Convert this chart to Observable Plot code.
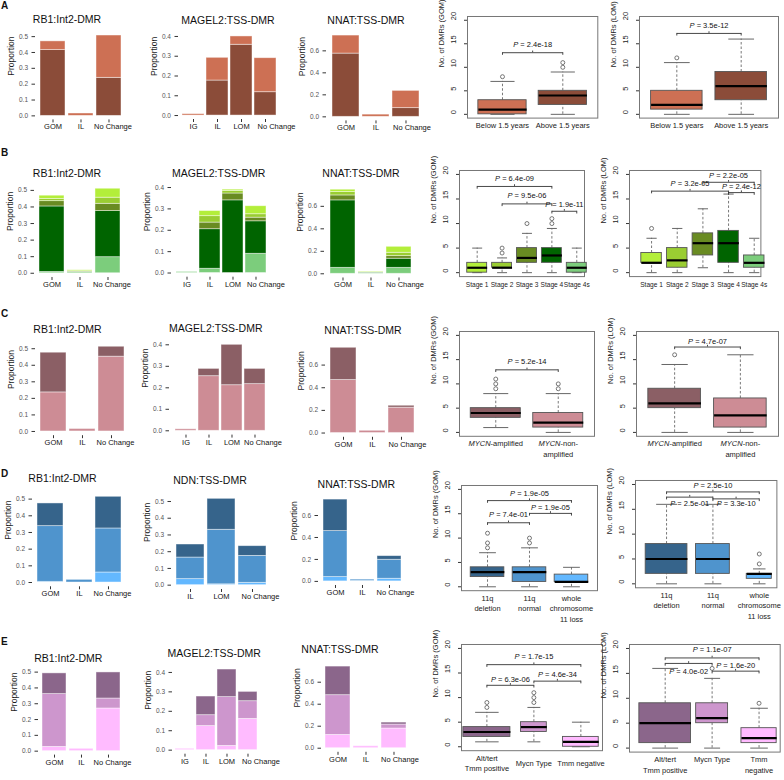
<!DOCTYPE html>
<html>
<head>
<meta charset="utf-8">
<script src="https://cdn.jsdelivr.net/npm/d3@7"></script>
<script src="https://cdn.jsdelivr.net/npm/@observablehq/plot@0.6"></script>
<style>
  body { margin: 0; background: #fff; }
  #fig { position: relative; width: 784px; height: 780px; overflow: hidden;
         font-family: "Liberation Sans", Arial, sans-serif; color: #111; }
  .ttl { position: absolute; transform: translate(-50%, -50%); font-size: 10.5px; line-height: 1; white-space: nowrap; }
  .tag { position: absolute; transform: translate(0, -50%); font-size: 10px; font-weight: bold; line-height: 1; }
</style>
</head>
<body>
<div id="fig"></div>
<script>
// ---------- categories ----------
const rb1Cats = ["GOM", "IL", "No Change"];
const magel2Cats = ["IG", "IL", "LOM", "No Change"];
const ndnCats = ["IL", "LOM", "No Change"];
const nnatCats = ["GOM", "IL", "No Change"];

const propTicks5 = [0, 0.1, 0.2, 0.3, 0.4, 0.5];
const propTicks4 = [0, 0.1, 0.2, 0.3, 0.4];
const propTicks6 = [0, 0.2, 0.4, 0.6];
const countTicks = [0, 5, 10, 15, 20];

// ---------- A: age at diagnosis ----------
const ageStack = ["Above 1.5 years", "Below 1.5 years"];          // bottom -> top
const ageStackColors = ["#8B4C39", "#CD7054"];
const ageRb1 = [[0.415, 0, 0.24], [0.055, 0.015, 0.267]];
const ageMagel2 = [[0, 0.177, 0.358, 0.118], [0.007, 0.115, 0.042, 0.172]];
const ageNnat = [[0.575, 0, 0.079], [0.164, 0.02, 0.157]];
const ageBoxGroups = ["Below 1.5 years", "Above 1.5 years"];
const ageBoxColors = ["#CD7054", "#8B4C39"];
// lower whisker, Q1, median, Q3, upper whisker
const ageGom = [[0, 0, 1, 3, 7], [0, 2, 4, 5, 9]];
const ageGomOut = [[8], [10, 11]];
const ageGomP = [{a: 1, b: 2, y: 13.1, ty: 14.8, p: "2.4e-18"}];
const ageLom = [[0, 1, 2, 5, 11], [0, 3, 6, 9, 16]];
const ageLomOut = [[12], []];
const ageLomP = [{a: 1, b: 2, y: 17.2, ty: 18.9, p: "3.5e-12"}];

// ---------- B: INSS stage ----------
const stageStack = ["Stage 4s", "Stage 4", "Stage 3", "Stage 2", "Stage 1"];
const stageStackColors = ["#7CCD7C", "#006400", "#698B22", "#9ACD32", "#B3EE3A"];
const stageRb1 = [[0.008, 0.008, 0.097], [0.395, 0, 0.278], [0.032, 0.004, 0.044], [0.013, 0, 0.037], [0.02, 0.006, 0.054]];
const stageMagel2 = [[0.005, 0.02, 0, 0.09], [0, 0.185, 0.34, 0.152], [0, 0.031, 0.032, 0.017], [0, 0.03, 0.012, 0.016], [0, 0.024, 0.006, 0.0375]];
const stageNnat = [[0.053, 0.008, 0.053], [0.6, 0.004, 0.081], [0.044, 0, 0.023], [0.03, 0, 0.03], [0.021, 0.006, 0.053]];
const stageBoxGroups = ["Stage 1", "Stage 2", "Stage 3", "Stage 4", "Stage 4s"];
const stageBoxColors = ["#B3EE3A", "#9ACD32", "#698B22", "#006400", "#7CCD7C"];
const stageGom = [[0, 0, 1, 2, 5], [0, 1, 1, 2, 3], [0, 2, 3, 5, 8], [0, 2, 3.5, 5, 9], [0, 0, 1, 2, 5]];
const stageGomOut = [[], [4, 5], [10], [10, 11], []];
const stageGomP = [
  {a: 1, b: 4, y: 17.55, ty: 19.1, p: "6.4e-09"},
  {a: 2, b: 4, y: 14.0, ty: 15.7, p: "9.5e-06"},
  {a: 4, b: 5, y: 12.5, ty: 13.9, p: "1.9e-11"}
];
const stageLom = [[0, 2, 2, 4, 7], [0, 1, 2.5, 5, 9], [1, 3.5, 6, 8, 13], [0, 2, 6, 8.5, 16], [0, 1, 2, 3.5, 7]];
const stageLomOut = [[9], [], [], [], []];
const stageLomP = [
  {a: 1, b: 4, y: 16.6, ty: 18.2, p: "3.2e-05"},
  {a: 3, b: 5, y: 18.4, ty: 19.8, p: "2.2e-05"},
  {a: 4, b: 5, y: 16.3, ty: 17.5, p: "2.4e-12"}
];

// ---------- C: MYCN status ----------
const mycnStack = ["MYCN-non-amplified", "MYCN-amplified"];
const mycnStackColors = ["#CD8C95", "#8B5F65"];
const mycnRb1 = [[0.236, 0.015, 0.452], [0.24, 0, 0.06]];
const mycnMagel2 = [[0.007, 0.254, 0.212, 0.217], [0, 0.034, 0.188, 0.071]];
const mycnNnat = [[0.468, 0.02, 0.224], [0.285, 0, 0.017]];
const mycnBoxGroups = ["MYCN-amplified", "MYCN-non-\namplified"];
const mycnBoxColors = ["#8B5F65", "#CD8C95"];
const mycnGom = [[1, 3, 4, 5, 8], [0, 1, 2, 4, 8]];
const mycnGomOut = [[9, 10, 11], [9, 10]];
const mycnGomP = [{a: 1, b: 2, y: 12.9, ty: 14.6, p: "5.2e-14"}];
const mycnLom = [[0, 5, 6, 9, 14], [0, 1, 3.5, 7, 16]];
const mycnLomOut = [[16], []];
const mycnLomP = [{a: 1, b: 2, y: 17.6, ty: 18.7, p: "4.7e-07"}];

// ---------- D: chromosome 11 status ----------
const chr11Stack = ["whole chromosome 11 loss", "11q normal", "11q deletion"];
const chr11StackColors = ["#63B8FF", "#4F94CD", "#36648B"];
const chr11Rb1 = [[0.004, 0, 0.06], [0.334, 0.016, 0.264], [0.136, 0, 0.19]];
const chr11Ndn = [[0.036, 0.005, 0.014], [0.129, 0.326, 0.161], [0.078, 0.185, 0.058]];
const chr11Nnat = [[0.039, 0.004, 0.024], [0.419, 0.012, 0.173], [0.287, 0, 0.033]];
const chr11BoxGroups = ["11q\ndeletion", "11q\nnormal", "whole\nchromosome\n11 loss"];
const chr11BoxColors = ["#36648B", "#4F94CD", "#63B8FF"];
const chr11Gom = [[0, 2, 3, 4, 7], [0, 1, 3, 4, 8], [0, 1, 1, 2.5, 4]];
const chr11GomOut = [[8, 9, 11], [9, 10], []];
const chr11GomP = [
  {a: 1, b: 3, y: 17.7, ty: 19.2, p: "1.9e-05"},
  {a: 1, b: 2, y: 13.15, ty: 14.9, p: "7.4e-01"},
  {a: 2, b: 3, y: 15.07, ty: 16.3, p: "1.9e-05"}
];
const chr11Lom = [[0, 2, 5, 8, 16], [0, 2, 5, 8, 16], [0, 1, 2, 2, 3]];
const chr11LomOut = [[], [], [4, 6]];
const chr11LomP = [
  {a: 1, b: 3, y: 18.5, ty: 19.7, p: "2.5e-10"},
  {a: 1, b: 2, y: 17.45, ty: 16.2, p: "2.5e-01"},
  {a: 2, b: 3, y: 17.1, ty: 16.1, p: "3.3e-10"}
];

// ---------- E: telomere maintenance ----------
const tmmStack = ["Tmm negative", "Mycn Type", "Alt/tert Tmm positive"];
const tmmStackColors = ["#FFBBFF", "#CD96CD", "#8B668B"];
const tmmRb1 = [[0.027, 0.015, 0.27], [0.334, 0, 0.063], [0.131, 0, 0.165]];
const tmmMagel2 = [[0.007, 0.124, 0.022, 0.161], [0, 0.056, 0.251, 0.091], [0, 0.096, 0.142, 0.048]];
const tmmNnat = [[0.121, 0.018, 0.179], [0.361, 0, 0.036], [0.26, 0, 0.018]];
const tmmBoxColors = ["#8B668B", "#CD96CD", "#FFBBFF"];
const tmmGomGroups = ["Alt/tert\nTmm positive", "Mycn Type", "Tmm negative"];
const tmmGom = [[1, 2, 3, 4, 7], [1, 3, 4, 5, 8], [0, 0, 1, 2, 5]];
const tmmGomOut = [[8, 9], [9, 10, 11], []];
const tmmGomP = [
  {a: 1, b: 3, y: 16.7, ty: 18.4, p: "1.7e-15"},
  {a: 1, b: 2, y: 12.5, ty: 13.7, p: "6.3e-06"},
  {a: 2, b: 3, y: 13.35, ty: 14.7, p: "4.6e-34"}
];
const tmmLomGroups = ["Alt/tert\nTmm positive", "Mycn Type", "Tmm\nnegative"];
const tmmLom = [[0, 1, 5, 9, 16], [0, 5, 6, 9, 14], [0, 1, 2, 4, 8]];
const tmmLomOut = [[], [16], [9]];
const tmmLomP = [
  {a: 1, b: 3, y: 18.1, ty: 19.7, p: "1.1e-07"},
  {a: 1, b: 2, y: 17.0, ty: 15.3, p: "4.0e-02"},
  {a: 2, b: 3, y: 15.45, ty: 16.6, p: "1.6e-20"}
];

// ---------- drawing helpers ----------
const FONT = "'Liberation Sans', Arial, sans-serif";
const fig = document.getElementById("fig");

function place(svg, left, top) {
  svg.style.position = "absolute";
  svg.style.left = left + "px";
  svg.style.top = top + "px";
  svg.style.maxWidth = "none";
  fig.appendChild(svg);
}

function label(text, x, y, cls) {
  const d = document.createElement("div");
  d.className = cls;
  d.textContent = text;
  d.style.left = x + "px";
  d.style.top = y + "px";
  fig.appendChild(d);
}

// italic "P" in p-value labels and italic gene symbol MYCN
function styleText(svg) {
  d3.select(svg).selectAll("text").each(function () {
    const t = this.textContent;
    let head = null, rest = null;
    if (t.startsWith("P = ")) { head = "P"; rest = t.slice(1); }
    else if (t.startsWith("MYCN")) { head = "MYCN"; rest = t.slice(4); }
    if (head === null) return;
    const sel = d3.select(this);
    sel.text(null);
    sel.append("tspan").attr("font-style", "italic").text(head);
    sel.append("tspan").text(rest);
  });
}

const baseStyle = {background: "transparent", fontFamily: FONT, fontSize: "7.5px", color: "#333", overflow: "visible"};

// stacked proportion bars (one panel); shift nudges the "No Change" label sideways
function barPanel({cats, groups, colors, values, ticks, rect, title, titleAt, shift = 4}) {
  const [x0, x1, y0, y1] = rect;
  const rows = [];
  groups.forEach((g, gi) => cats.forEach((c, ci) => {
    if (values[gi][ci] > 0) rows.push({cat: c, group: g, value: values[gi][ci]});
  }));
  const top = d3.max(cats, (c, ci) => d3.sum(values, v => v[ci]));
  const M = {l: 38, r: 4, t: 4, b: 22};
  const svg = Plot.plot({
    width: x1 - x0 + M.l + M.r,
    height: y1 - y0 + M.t + M.b,
    marginLeft: M.l, marginRight: M.r, marginTop: M.t, marginBottom: M.b,
    style: baseStyle,
    x: {domain: cats, paddingInner: 0.1, paddingOuter: 0.15, tickSize: 3, tickFormat: () => "", label: null},
    y: {domain: [-0.05 * top, 1.05 * top], ticks, tickFormat: ".1f", tickSize: 3.5, tickPadding: 4, label: null},
    color: {domain: groups, range: colors},
    marks: [
      Plot.barY(rows, {x: "cat", y: "value", fill: "group", stroke: "#fff", strokeOpacity: 0.55, strokeWidth: 0.8}),
      ...cats.map(c => Plot.text([c], {
        x: d => d, text: d => d, frameAnchor: "bottom", dy: 9.5, dx: c === "No Change" ? shift : 0,
        fontSize: 7.5, fill: "#111"
      })),
      Plot.text(["Proportion"], {text: d => d, frameAnchor: "left", rotate: -90, dx: -24, fontSize: 8.5, fill: "#1a1a1a"})
    ]
  });
  d3.select(svg).selectAll('g[aria-label^="y-axis"] text').style("font-size", "6.5px").style("fill", "#555");
  place(svg, x0 - M.l, y0 - M.t);
  label(title, titleAt[0], titleAt[1], "ttl");
}

// box plots with p-value brackets (one panel); widths are box widths in group units
function boxPanel({groups, colors, stats, outliers, brackets, rect, ylab, xdom, centerLabels, labelSize = 7.5, widths}) {
  const [x0, x1, y0, y1] = rect;
  const n = groups.length;
  const boxes = groups.map((g, i) => ({
    i: i + 1, g, w: widths ? widths[i] / 2 : 0.4,
    lo: stats[i][0], q1: stats[i][1], med: stats[i][2], q3: stats[i][3], hi: stats[i][4]
  }));
  const outs = outliers.flatMap((vs, i) => vs.map(v => ({i: i + 1, v})));
  const drops = brackets.flatMap(b => [{x: b.a, y: b.y}, {x: b.b, y: b.y}]);
  const maxLines = d3.max(groups, g => g.split("\n").length);
  const lh = 10.5;
  const xLabels = groups.flatMap((g, i) => {
    const lines = g.split("\n");
    const off = centerLabels ? (maxLines - lines.length) * lh / 2 : 0;
    return lines.map((t, k) => Plot.text([{i: i + 1, t}], {
      x: "i", text: "t", frameAnchor: "bottom", dy: 10 + off + k * lh, fontSize: labelSize, fill: "#1a1a1a"
    }));
  });
  const M = {l: 34, r: 8, t: 4, b: 40};
  const line = "#555";
  const svg = Plot.plot({
    width: x1 - x0 + M.l + M.r,
    height: y1 - y0 + M.t + M.b,
    marginLeft: M.l, marginRight: M.r, marginTop: M.t, marginBottom: M.b,
    style: baseStyle,
    x: {domain: xdom || [0.5 - 0.04 * n, n + 0.5 + 0.04 * n], axis: null},
    y: {domain: [-0.8, 20.8], ticks: countTicks, tickSize: 3, tickFormat: () => "", label: null},
    color: {domain: groups, range: colors},
    marks: [
      Plot.frame({stroke: "#777"}),
      Plot.ruleX(boxes, {x: "i", y1: "lo", y2: "q1", stroke: line, strokeWidth: 0.8, strokeDasharray: "2.5,2"}),
      Plot.ruleX(boxes, {x: "i", y1: "q3", y2: "hi", stroke: line, strokeWidth: 0.8, strokeDasharray: "2.5,2"}),
      Plot.link(boxes, {x1: d => d.i - d.w / 2, x2: d => d.i + d.w / 2, y1: "lo", y2: "lo", stroke: "#666", strokeWidth: 1}),
      Plot.link(boxes, {x1: d => d.i - d.w / 2, x2: d => d.i + d.w / 2, y1: "hi", y2: "hi", stroke: "#666", strokeWidth: 1}),
      Plot.rect(boxes, {x1: d => d.i - d.w, x2: d => d.i + d.w, y1: "q1", y2: "q3", fill: "g", stroke: line, strokeWidth: 0.9}),
      Plot.link(boxes, {x1: d => d.i - d.w, x2: d => d.i + d.w, y1: "med", y2: "med", stroke: "#000", strokeWidth: 2.2}),
      Plot.dot(outs, {x: "i", y: "v", r: 2, stroke: line, strokeWidth: 0.8, fill: "none"}),
      Plot.link(brackets, {x1: "a", x2: "b", y1: "y", y2: "y", stroke: "#333", strokeWidth: 0.9}),
      Plot.ruleX(drops, {x: "x", y1: d => d.y - 0.55, y2: "y", stroke: "#333", strokeWidth: 0.9}),
      Plot.ruleX(brackets, {x: d => (d.a + d.b) / 2, y1: "y", y2: d => d.y + 0.35, stroke: "#333", strokeWidth: 0.9}),
      Plot.text(brackets, {x: d => (d.a + d.b) / 2, y: "ty", text: d => "P = " + d.p, fontSize: 7.5, fill: "#111"}),
      Plot.text(countTicks, {y: d => d, text: d => String(d), frameAnchor: "left", dx: -14, rotate: -90, fontSize: 7.5, fill: "#222"}),
      Plot.text([ylab], {text: d => d, frameAnchor: "left", rotate: -90, dx: -26, fontSize: 7.5, fill: "#222"}),
      ...xLabels
    ]
  });
  styleText(svg);
  place(svg, x0 - M.l, y0 - M.t);
}

// ---------- panel letters ----------
label("A", 1, 6, "tag");
label("B", 1, 152.5, "tag");
label("C", 1, 314, "tag");
label("D", 1, 474, "tag");
label("E", 1, 642, "tag");

// ---------- row A ----------
barPanel({cats: rb1Cats, groups: ageStack, colors: ageStackColors, values: ageRb1, ticks: propTicks5,
  rect: [35, 127, 30.6, 119], title: "RB1:Int2-DMR", titleAt: [67, 19]});
barPanel({cats: magel2Cats, groups: ageStack, colors: ageStackColors, values: ageMagel2, ticks: propTicks4,
  rect: [178, 279, 32, 119], title: "MAGEL2:TSS-DMR", titleAt: [228, 19.5], shift: 11});
barPanel({cats: nnatCats, groups: ageStack, colors: ageStackColors, values: ageNnat, ticks: propTicks6,
  rect: [326, 424, 30.6, 120], title: "NNAT:TSS-DMR", titleAt: [366, 19.5], shift: 6});
boxPanel({groups: ageBoxGroups, colors: ageBoxColors, stats: ageGom, outliers: ageGomOut, brackets: ageGomP,
  rect: [466.7, 597, 15.5, 117.1], ylab: "No. of DMRs (GOM)"});
boxPanel({groups: ageBoxGroups, colors: ageBoxColors, stats: ageLom, outliers: ageLomOut, brackets: ageLomP,
  rect: [638.7, 777.7, 15.5, 117.1], ylab: "No. of DMRs (LOM)"});

// ---------- row B ----------
barPanel({cats: rb1Cats, groups: stageStack, colors: stageStackColors, values: stageRb1, ticks: propTicks5,
  rect: [34.3, 126, 184, 277], title: "RB1:Int2-DMR", titleAt: [67, 172.7]});
barPanel({cats: magel2Cats, groups: stageStack, colors: stageStackColors, values: stageMagel2, ticks: propTicks4,
  rect: [170.5, 270.5, 185.3, 277], title: "MAGEL2:TSS-DMR", titleAt: [218.7, 172.7], shift: 10});
barPanel({cats: nnatCats, groups: stageStack, colors: stageStackColors, values: stageNnat, ticks: propTicks6,
  rect: [324, 416.6, 184.5, 277], title: "NNAT:TSS-DMR", titleAt: [361, 172.7], shift: 6});
boxPanel({groups: stageBoxGroups, colors: stageBoxColors, stats: stageGom, outliers: stageGomOut, brackets: stageGomP,
  rect: [459.3, 584.3, 170.1, 276.2], xdom: [0.29, 5.31], ylab: "No. of DMRs (GOM)", labelSize: 6.6});
boxPanel({groups: stageBoxGroups, colors: stageBoxColors, stats: stageLom, outliers: stageLomOut, brackets: stageLomP,
  rect: [629.3, 760.7, 170.1, 276.2], xdom: [0.14, 5.26], ylab: "No. of DMRs (LOM)", labelSize: 6.6});

// ---------- row C ----------
barPanel({cats: rb1Cats, groups: mycnStack, colors: mycnStackColors, values: mycnRb1, ticks: propTicks5,
  rect: [34.7, 128.2, 341.8, 435], title: "RB1:Int2-DMR", titleAt: [67.5, 329.3]});
barPanel({cats: magel2Cats, groups: mycnStack, colors: mycnStackColors, values: mycnMagel2, ticks: propTicks4,
  rect: [169.4, 270.2, 340.4, 435], title: "MAGEL2:TSS-DMR", titleAt: [215.8, 328.3], shift: 8});
barPanel({cats: nnatCats, groups: mycnStack, colors: mycnStackColors, values: mycnNnat, ticks: propTicks6,
  rect: [325.4, 419.4, 342.5, 436.3], title: "NNAT:TSS-DMR", titleAt: [363, 330], shift: 6});
boxPanel({groups: mycnBoxGroups, colors: mycnBoxColors, stats: mycnGom, outliers: mycnGomOut, brackets: mycnGomP,
  rect: [459, 594, 331.1, 435.9], ylab: "No. of DMRs (GOM)"});
boxPanel({groups: mycnBoxGroups, colors: mycnBoxColors, stats: mycnLom, outliers: mycnLomOut, brackets: mycnLomP,
  rect: [635.7, 777.7, 331.1, 435.9], ylab: "No. of DMRs (LOM)"});

// ---------- row D ----------
barPanel({cats: rb1Cats, groups: chr11Stack, colors: chr11StackColors, values: chr11Rb1, ticks: propTicks5,
  rect: [32, 126, 492.3, 586.6], title: "RB1:Int2-DMR", titleAt: [62.5, 478.3]});
barPanel({cats: ndnCats, groups: chr11Stack, colors: chr11StackColors, values: chr11Ndn, ticks: propTicks5,
  rect: [170.6, 269.8, 493.6, 588.6], title: "NDN:TSS-DMR", titleAt: [210, 480], shift: 8});
barPanel({cats: nnatCats, groups: chr11Stack, colors: chr11StackColors, values: chr11Nnat, ticks: propTicks6,
  rect: [317.5, 406.3, 495, 585], title: "NNAT:TSS-DMR", titleAt: [356.3, 484], shift: 6});
boxPanel({groups: chr11BoxGroups, colors: chr11BoxColors, stats: chr11Gom, outliers: chr11GomOut, brackets: chr11GomP,
  rect: [460.7, 596.7, 485.4, 590.6], ylab: "No. of DMRs (GOM)"});
boxPanel({groups: chr11BoxGroups, colors: chr11BoxColors, stats: chr11Lom, outliers: chr11LomOut, brackets: chr11LomP,
  rect: [635.3, 776.7, 480, 587.3], xdom: [0.33, 3.38], widths: [0.9, 0.73, 0.54], ylab: "No. of DMRs (LOM)"});

// ---------- row E ----------
barPanel({cats: rb1Cats, groups: tmmStack, colors: tmmStackColors, values: tmmRb1, ticks: propTicks5,
  rect: [38, 124.5, 668.4, 755], title: "RB1:Int2-DMR", titleAt: [68.3, 657.7]});
barPanel({cats: magel2Cats, groups: tmmStack, colors: tmmStackColors, values: tmmMagel2, ticks: propTicks4,
  rect: [171.8, 260.5, 665.3, 754], title: "MAGEL2:TSS-DMR", titleAt: [214.2, 652.7], shift: 13});
barPanel({cats: nnatCats, groups: tmmStack, colors: tmmStackColors, values: tmmNnat, ticks: propTicks6,
  rect: [321, 411, 661.6, 751.4], title: "NNAT:TSS-DMR", titleAt: [340, 649.3], shift: 6});
boxPanel({groups: tmmGomGroups, colors: tmmBoxColors, stats: tmmGom, outliers: tmmGomOut, brackets: tmmGomP,
  rect: [460.7, 601.7, 644.4, 750.6], xdom: [0.46, 3.46], widths: [1.0, 0.55, 0.76],
  ylab: "No. of DMRs (GOM)", centerLabels: true});
boxPanel({groups: tmmLomGroups, colors: tmmBoxColors, stats: tmmLom, outliers: tmmLomOut, brackets: tmmLomP,
  rect: [629.3, 780, 643.7, 751.3], xdom: [0.24, 3.45], widths: [1.1, 0.68, 0.75], ylab: "No. of DMRs (LOM)"});
</script>
</body>
</html>
